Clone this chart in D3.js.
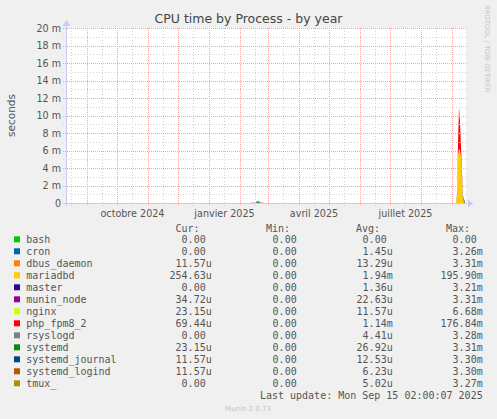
<!DOCTYPE html>
<html>
<head>
<meta charset="utf-8">
<script src="https://cdn.jsdelivr.net/npm/d3@7/dist/d3.min.js"></script>
<style>
body { margin: 0; background: #f0f0f0; }
svg { display: block; }
</style>
</head>
<body>
<div id="chart"></div>
<script>
// chart data (values in milli-seconds, "m")
const processes = ['bash', 'cron', 'dbus_daemon', 'mariadbd', 'master', 'munin_node', 'nginx',
    'php_fpm8_2', 'rsyslogd', 'systemd', 'systemd_journal', 'systemd_logind', 'tmux_'];
const colors = ['#00cc00', '#0066b3', '#ff8000', '#ffcc00', '#330099', '#990099', '#ccff00',
    '#ff0000', '#808080', '#008f00', '#00487d', '#b35a00', '#b38f00'];

const curValues = ['0.00', '0.00', '11.57u', '254.63u', '0.00', '34.72u', '23.15u', '69.44u', '0.00', '23.15u', '11.57u', '11.57u', '0.00'];
const minValues = ['0.00', '0.00', '0.00', '0.00', '0.00', '0.00', '0.00', '0.00', '0.00', '0.00', '0.00', '0.00', '0.00'];
const avgValues = ['0.00', '1.45u', '13.29u', '1.94m', '1.36u', '22.63u', '11.57u', '1.14m', '4.41u', '26.92u', '12.53u', '6.23u', '5.02u'];
const maxValues = ['0.00', '3.26m', '3.31m', '195.90m', '3.21m', '3.31m', '6.68m', '176.84m', '3.28m', '3.31m', '3.30m', '3.30m', '3.27m'];

const sampleDates = ['2025-02-12', '2025-02-14', '2025-02-16', '2025-02-18', '2025-02-19', '2025-02-20',
    '2025-02-22', '2025-02-23', '2025-02-24', '2025-09-05', '2025-09-06', '2025-09-07', '2025-09-08',
    '2025-09-09', '2025-09-10', '2025-09-11', '2025-09-12', '2025-09-13', '2025-09-14'];

const bash           = [0, 0, 0, 0, 0, 0, 0, 0, 0, 0, 0, 0, 0, 0, 0, 0, 0, 0, 0];
const cron           = [0, 0, 0, 0, 0, 0, 0, 0, 0, 0, 0, 0, 0, 0, 0, 0, 0, 0, 0];
const dbus_daemon    = [0, 0, 0, 0, 0, 0, 0, 0.15, 0, 0, 0, 0, 0, 0, 0, 0, 0, 0, 0];
const mariadbd       = [0, 0, 0, 0, 0, 0, 0, 0, 0, 0, 0.6, 5.4, 6.2, 6.0, 5.2, 2.8, 0.4, 0, 0];
const master         = [0, 0, 0, 0, 0, 0, 0, 0, 0, 0, 0, 0, 0, 0, 0, 0, 0, 0, 0];
const munin_node     = [0.04, 0.04, 0.04, 0.04, 0.03, 0.03, 0, 0, 0, 0, 0, 0, 0, 0, 0, 0.4, 0.2, 0, 0];
const nginx          = [0, 0, 0, 0, 0, 0, 0, 0, 0, 0, 0, 0, 0, 0, 0, 0, 0, 0, 0];
const php_fpm8_2     = [0, 0, 0, 0, 0, 0, 0, 0, 0, 0, 0, 1.2, 4.8, 3.2, 1.2, 0.3, 0, 0, 0];
const rsyslogd       = [0, 0, 0, 0, 0, 0, 0, 0, 0, 0, 0, 0, 0, 0, 0, 0, 0.3, 0.35, 0.2];
const systemd        = [0, 0, 0, 0.08, 0.1, 0.08, 0, 0, 0, 0, 0.3, 0, 0, 0, 0, 0, 0, 0, 0];
const systemd_journal = [0, 0, 0, 0.05, 0.06, 0.05, 0, 0, 0, 0, 0, 0, 0, 0, 0, 0, 0, 0, 0];
const systemd_logind = [0, 0, 0, 0, 0, 0, 0, 0, 0, 0, 0, 0, 0, 0, 0, 0, 0, 0.1, 0];
const tmux_          = [0, 0, 0, 0, 0, 0, 0, 0, 0, 0, 0, 0, 0, 0, 0, 0, 0, 0, 0];

const seriesValues = [bash, cron, dbus_daemon, mariadbd, master, munin_node, nginx,
    php_fpm8_2, rsyslogd, systemd, systemd_journal, systemd_logind, tmux_];

const yTicks = [0, 2, 4, 6, 8, 10, 12, 14, 16, 18, 20];
const monthLabels = [['2024-10-01', 'octobre 2024'], ['2025-01-01', 'janvier 2025'],
    ['2025-04-01', 'avril 2025'], ['2025-07-01', 'juillet 2025']];
const lastUpdate = 'Last update: Mon Sep 15 02:00:07 2025';

// layout
const W = 497, H = 419;
const plot = { left: 66, right: 466, top: 28, bottom: 203 };
const sans = 'DejaVu Sans, sans-serif';
const mono = 'DejaVu Sans Mono, monospace';

const endTime = new Date(Date.UTC(2025, 8, 15, 0, 0, 7));
const startTime = new Date(endTime.getTime() - 400 * 864e5);
const parse = s => new Date(s + 'T00:00:00Z');

const svg = d3.select('#chart').append('svg')
    .attr('width', W)
    .attr('height', H)
    .style('background', '#f0f0f0');

const x = d3.scaleUtc().domain([startTime, endTime]).range([plot.left, plot.right]);
const y = d3.scaleLinear().domain([0, 20]).range([plot.bottom, plot.top]);

svg.append('rect')
    .attr('x', plot.left).attr('y', plot.top)
    .attr('width', plot.right - plot.left).attr('height', plot.bottom - plot.top)
    .attr('fill', '#fff');

// stacked areas
const rows = sampleDates.map((d, i) => {
    const r = { date: parse(d) };
    processes.forEach((p, k) => { r[p] = seriesValues[k][i]; });
    return r;
});
const stacked = d3.stack().keys(processes)(rows);
const area = d3.area()
    .x(d => x(d.data.date))
    .y0(d => y(d[0]))
    .y1(d => y(d[1]));

svg.append('clipPath').attr('id', 'clip').append('rect')
    .attr('x', plot.left).attr('y', plot.top)
    .attr('width', plot.right - plot.left).attr('height', plot.bottom - plot.top);

svg.append('g').attr('clip-path', 'url(#clip)')
    .selectAll('path')
    .data(stacked)
    .enter()
    .append('path')
    .attr('d', area)
    .attr('fill', (d, i) => colors[i]);

// grid (drawn over the areas, like rrdtool)
const grid = svg.append('g').attr('shape-rendering', 'crispEdges');
const months = d3.utcMonth.range(d3.utcMonth.ceil(startTime), endTime);
const midMonths = d3.utcMonth.range(d3.utcMonth.floor(startTime), endTime)
    .map(m => d3.utcDay.offset(m, 15))
    .filter(d => d > startTime && d < endTime);
const minorColor = '#d2d2d2';
const majorColor = '#efa8a8';

grid.selectAll('.vminor').data(midMonths).enter().append('line')
    .attr('x1', d => Math.round(x(d)) + 0.5).attr('x2', d => Math.round(x(d)) + 0.5)
    .attr('y1', plot.top).attr('y2', plot.bottom + 3)
    .attr('stroke', minorColor).attr('stroke-dasharray', '1,2');

const yMinor = d3.range(1, 20, 2);
grid.selectAll('.hminor').data(yMinor).enter().append('line')
    .attr('x1', plot.left - 3).attr('x2', plot.right)
    .attr('y1', d => Math.round(y(d)) + 0.5).attr('y2', d => Math.round(y(d)) + 0.5)
    .attr('stroke', minorColor).attr('stroke-dasharray', '1,2');

grid.selectAll('.vmajor').data(months).enter().append('line')
    .attr('x1', d => Math.round(x(d)) + 0.5).attr('x2', d => Math.round(x(d)) + 0.5)
    .attr('y1', plot.top).attr('y2', plot.bottom + 3)
    .attr('stroke', majorColor).attr('stroke-dasharray', '1,1');

grid.selectAll('.hmajor').data(yTicks).enter().append('line')
    .attr('x1', plot.left - 3).attr('x2', plot.right)
    .attr('y1', d => Math.round(y(d)) + 0.5).attr('y2', d => Math.round(y(d)) + 0.5)
    .attr('stroke', majorColor).attr('stroke-dasharray', '1,1');

// axes
const axisColor = '#c8c8f4';
svg.append('line')
    .attr('x1', plot.left - 3).attr('x2', plot.right + 2)
    .attr('y1', plot.bottom + 0.5).attr('y2', plot.bottom + 0.5)
    .attr('stroke', axisColor);
svg.append('line')
    .attr('x1', plot.left + 0.5).attr('x2', plot.left + 0.5)
    .attr('y1', plot.top - 4).attr('y2', plot.bottom + 3)
    .attr('stroke', axisColor);
svg.append('path')
    .attr('d', `M${plot.right + 2},${plot.bottom - 3.5} L${plot.right + 7},${plot.bottom + 0.5} L${plot.right + 2},${plot.bottom + 4.5} Z`)
    .attr('fill', axisColor);
svg.append('path')
    .attr('d', `M${plot.left - 3.5},${plot.top - 2} L${plot.left + 0.5},${plot.top - 8} L${plot.left + 4.5},${plot.top - 2} Z`)
    .attr('fill', axisColor);

// y tick labels
svg.append('g').selectAll('text').data(yTicks).enter().append('text')
    .attr('x', plot.left - 5)
    .attr('y', d => y(d) + 3.5)
    .attr('text-anchor', 'end')
    .attr('font-family', sans).attr('font-size', '9.6px').attr('fill', '#555')
    .text(d => d === 0 ? '0' : d + ' m');

// x labels, centered in their month
svg.append('g').selectAll('text').data(monthLabels).enter().append('text')
    .attr('x', d => {
        const m = parse(d[0]);
        return (x(m) + x(d3.utcMonth.offset(m, 1))) / 2;
    })
    .attr('y', plot.bottom + 13.5)
    .attr('text-anchor', 'middle')
    .attr('font-family', sans).attr('font-size', '9.6px').attr('fill', '#555')
    .text(d => d[1]);

// title and side texts
svg.append('text')
    .attr('x', W / 2).attr('y', 23)
    .attr('text-anchor', 'middle')
    .attr('font-family', sans).attr('font-size', '12.5px').attr('fill', '#444')
    .text('CPU time by Process - by year');

svg.append('text')
    .attr('transform', `translate(15, ${(plot.top + plot.bottom) / 2}) rotate(-90)`)
    .attr('text-anchor', 'middle')
    .attr('font-family', sans).attr('font-size', '10.5px').attr('fill', '#555')
    .text('seconds');

svg.append('text')
    .attr('transform', 'translate(485, 5) rotate(90)')
    .attr('text-anchor', 'start')
    .attr('font-family', sans).attr('font-size', '6.8px').attr('fill', '#c4c4c4')
    .text('RRDTOOL / TOBI OETIKER');

// legend
const legend = svg.append('g').attr('font-family', mono).attr('font-size', '10px').attr('fill', '#555');
const headers = [['Cur:', 199.5], ['Min:', 290], ['Avg:', 380], ['Max:', 470]];
legend.selectAll('.hdr').data(headers).enter().append('text')
    .attr('x', d => d[1]).attr('y', 231.8)
    .attr('text-anchor', 'end')
    .text(d => d[0]);

const colEnds = [205.7, 296.7, 386.7, 476.7];
const columns = [curValues, minValues, avgValues, maxValues];
const rowY = i => 239.3 + 12 * i;

processes.forEach((p, i) => {
    legend.append('rect')
        .attr('x', 14).attr('y', rowY(i) - 3)
        .attr('width', 6).attr('height', 6)
        .attr('fill', colors[i]);
    legend.append('text')
        .attr('x', 26.3).attr('y', rowY(i) + 3.5)
        .text(p);
    columns.forEach((col, c) => {
        const v = col[i];
        const unit = /[a-z]$/.test(v) ? v.slice(-1) : '';
        const num = unit ? v.slice(0, -1) : v;
        legend.append('text')
            .attr('x', colEnds[c]).attr('y', rowY(i) + 3.5)
            .attr('text-anchor', 'end')
            .text(num);
        if (unit) {
            legend.append('text')
                .attr('x', colEnds[c]).attr('y', rowY(i) + 3.5)
                .text(unit);
        }
    });
});

legend.append('text')
    .attr('x', 482.7).attr('y', 398.8)
    .attr('text-anchor', 'end')
    .text(lastUpdate);

svg.append('text')
    .attr('x', 248).attr('y', 410.5)
    .attr('text-anchor', 'middle')
    .attr('font-family', sans).attr('font-size', '7px').attr('fill', '#c4c4c4')
    .text('Munin 2.0.73');
</script>
</body>
</html>
